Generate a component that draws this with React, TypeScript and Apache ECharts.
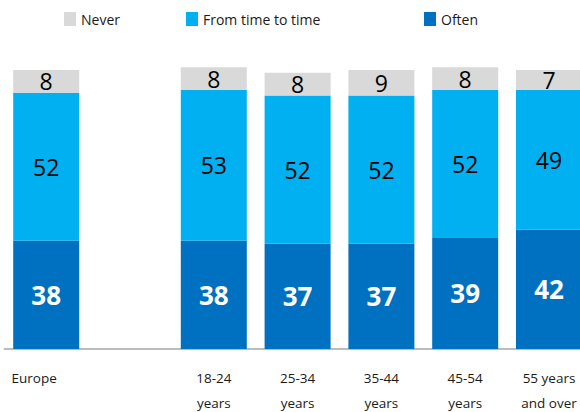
import React, { useEffect, useRef } from "react";
import * as echarts from "echarts";

const categories = ["Europe", "", "18-24\nyears", "25-34\nyears", "35-44\nyears", "45-54\nyears", "55 years\nand over"];
const often = [38, null, 38, 37, 37, 39, 42];
const fromTimeToTime = [52, null, 53, 52, 52, 52, 49];
const never = [8, null, 8, 8, 9, 8, 7];
const seriesNames = ["Never", "From time to time", "Often"];
const colors = { never: "#D9D9D9", ftt: "#00B0F0", often: "#0070C0" };
const FONT = "'Open Sans', 'Noto Sans', sans-serif";

export default function App() {
  const ref = useRef<HTMLDivElement>(null);
  useEffect(() => {
    if (!ref.current) return;
    const chart = echarts.init(ref.current, null, { renderer: "svg" });
    const legendBase = {
      top: 12,
      padding: 0,
      itemWidth: 12,
      itemHeight: 14,
      icon: "rect",
      selectedMode: false,
      textStyle: { fontSize: 14, color: "#1a1a1a", fontFamily: FONT },
    };
    const catData = categories.map((c, i) =>
      i === 0 ? { value: c, textStyle: { padding: [0, 24, 0, 0] } } : c
    );
    const valueLabel = {
      show: true,
      position: "inside",
      color: "#000",
      fontSize: 23,
      fontFamily: FONT,
    };
    chart.setOption({
      animation: false,
      textStyle: { fontFamily: FONT },
      legend: [
        { ...legendBase, left: 64, data: [seriesNames[0]] },
        { ...legendBase, left: 186, data: [seriesNames[1]] },
        { ...legendBase, left: 424, data: [seriesNames[2]] },
      ],
      grid: {
        left: 4.3,
        width: 586.6,
        top: 64.3,
        bottom: 63,
        containLabel: false,
        outerBoundsMode: "none",
      },
      xAxis: {
        type: "category",
        data: catData,
        axisLine: { show: true, lineStyle: { color: "#A6A6A6", width: 1.5 } },
        axisTick: { show: false },
        axisLabel: {
          interval: 0,
          margin: 16,
          fontSize: 13.5,
          lineHeight: 25,
          color: "#1a1a1a",
          fontFamily: FONT,
        },
      },
      yAxis: {
        type: "value",
        min: 0,
        max: 100,
        show: false,
        splitLine: { show: false },
      },
      series: [
        {
          name: "Often",
          type: "bar",
          stack: "total",
          barWidth: 66,
          data: often,
          itemStyle: { color: colors.often },
          label: { ...valueLabel, color: "#fff", fontWeight: "bold", fontSize: 26 },
        },
        {
          name: "From time to time",
          type: "bar",
          stack: "total",
          barWidth: 66,
          data: fromTimeToTime,
          itemStyle: { color: colors.ftt },
          label: valueLabel,
        },
        {
          name: "Never",
          type: "bar",
          stack: "total",
          barWidth: 66,
          data: never,
          itemStyle: { color: colors.never },
          label: valueLabel,
        },
      ],
    });
    return () => chart.dispose();
  }, []);
  return (
    <div
      ref={ref}
      style={{ position: "fixed", left: 0, top: 0, width: 580, height: 412, background: "#fff" }}
    />
  );
}
